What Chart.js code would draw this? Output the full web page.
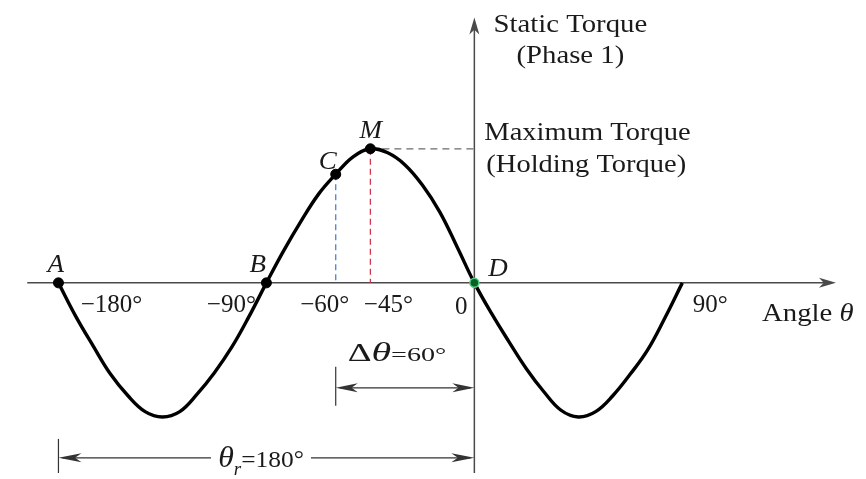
<!DOCTYPE html>
<html lang="en">
<head>
<meta charset="UTF-8" />
<title>Static Torque vs Angle</title>
<script src="https://cdn.jsdelivr.net/npm/chart.js"></script>
<style>
  html, body { margin: 0; padding: 0; background: #fff; }
  #wrap { width: 866px; height: 479px; }
</style>
</head>
<body>
<div id="wrap"><canvas id="torqueChart" width="866" height="479"></canvas></div>
<script>
  // rotor angle (deg) and static torque of phase 1 (1 = holding torque)
  const angles = [-180, -172.5, -165, -157.5, -150, -142.5, -135, -127.5, -120, -112.5, -105, -97.5,
                  -90, -82.5, -75, -67.5, -60, -52.5, -45, -37.5, -30, -22.5, -15, -7.5,
                  0, 7.5, 15, 22.5, 30, 37.5, 45, 52.5, 60, 67.5, 75, 82.5, 90];
  const torque = [0, -0.25, -0.47, -0.68, -0.84, -0.96, -1, -0.96, -0.83, -0.67, -0.48, -0.25,
                  0, 0.24, 0.46, 0.66, 0.81, 0.94, 1, 0.97, 0.88, 0.73, 0.53, 0.27,
                  0, -0.23, -0.44, -0.64, -0.81, -0.95, -1, -0.96, -0.84, -0.68, -0.5, -0.26, 0];

  // named points on the curve
  const pointNames = ['A', 'B', 'C', 'M', 'D'];
  const pointAngles = [-180, -90, -60, -45, 0];
  const pointTorque = [0, 0, 0.81, 1, 0];

  // angle axis labels
  const tickValues = [-180, -90, -60, -45, 0, 90];
  const tickLabels = ['−180°', '−90°', '−60°', '−45°', '0', '90°'];

  const stepAngle = 60;    // Δθ
  const periodAngle = 180; // θr

  const SERIF = '"Liberation Serif", "Times New Roman", serif';
  const AXIS_COLOR = '#4a4a4a';

  function arrowHead(ctx, x, y, dir, len, half) {
    ctx.save();
    ctx.translate(x, y);
    ctx.rotate(dir);
    ctx.beginPath();
    ctx.moveTo(0, 0);
    ctx.lineTo(-len, -half);
    ctx.lineTo(-len * 0.72, 0);
    ctx.lineTo(-len, half);
    ctx.closePath();
    ctx.fill();
    ctx.restore();
  }

  // text made of runs with different fonts, optionally stretched sideways
  function runs(ctx, parts, x, y, align, sx = 1) {
    let w = 0;
    parts.forEach(p => { ctx.font = p.font; w += ctx.measureText(p.t).width; });
    ctx.save();
    ctx.translate(align === 'center' ? x - w * sx / 2 : x, y);
    ctx.scale(sx, 1);
    let cx = 0;
    parts.forEach(p => {
      ctx.font = p.font;
      ctx.fillText(p.t, cx, p.dy || 0);
      cx += ctx.measureText(p.t).width;
    });
    ctx.restore();
  }

  function line(ctx, x1, y1, x2, y2) {
    ctx.beginPath();
    ctx.moveTo(x1, y1);
    ctx.lineTo(x2, y2);
    ctx.stroke();
  }

  const diagram = {
    id: 'diagram',
    beforeDatasetsDraw(chart) {
      const ctx = chart.ctx;
      const xs = chart.scales.x, ys = chart.scales.y;
      const x0 = xs.getPixelForValue(0), y0 = ys.getPixelForValue(0);
      const bottom = chart.chartArea.bottom;
      ctx.save();
      ctx.strokeStyle = AXIS_COLOR;
      ctx.fillStyle = AXIS_COLOR;
      ctx.lineWidth = 1.5;

      // angle axis
      const axL = xs.getPixelForValue(-193.5), axR = xs.getPixelForValue(156.5);
      line(ctx, axL, y0, axR - 6, y0);
      arrowHead(ctx, axR, y0, 0, 17, 5);

      // torque axis
      const axT = ys.getPixelForValue(1.98);
      line(ctx, x0, bottom, x0, axT + 6);
      arrowHead(ctx, x0, axT, -Math.PI / 2, 17, 5);

      // guides from M and C
      const mx = xs.getPixelForValue(pointAngles[3]), my = ys.getPixelForValue(pointTorque[3]);
      const cx = xs.getPixelForValue(pointAngles[2]), cy = ys.getPixelForValue(pointTorque[2]);
      ctx.lineWidth = 1.3;
      ctx.setLineDash([7, 5]);
      ctx.strokeStyle = '#6b6b6b';
      line(ctx, mx, my, x0, my);
      ctx.setLineDash([6, 4]);
      ctx.strokeStyle = '#d2374f';
      line(ctx, mx, my, mx, y0);
      ctx.strokeStyle = '#4f7fd4';
      line(ctx, cx, cy, cx, y0);
      ctx.setLineDash([]);

      // Δθ dimension
      ctx.strokeStyle = '#333';
      ctx.fillStyle = '#333';
      ctx.lineWidth = 1.2;
      const dL = xs.getPixelForValue(-stepAngle), dy = y0 + 105;
      line(ctx, dL, y0 + 84, dL, y0 + 123);
      line(ctx, dL + 4, dy, x0 - 4, dy);
      arrowHead(ctx, dL, dy, Math.PI, 22, 4.5);
      arrowHead(ctx, x0, dy, 0, 22, 4.5);

      // θr dimension
      const rL = xs.getPixelForValue(-periodAngle), ry = y0 + 175;
      line(ctx, rL, y0 + 156, rL, bottom);
      line(ctx, rL + 4, ry, 211, ry);
      line(ctx, 311, ry, x0 - 4, ry);
      arrowHead(ctx, rL, ry, Math.PI, 23, 4.5);
      arrowHead(ctx, x0, ry, 0, 23, 4.5);
      ctx.restore();
    },
    afterDatasetsDraw(chart) {
      const ctx = chart.ctx;
      const xs = chart.scales.x, ys = chart.scales.y;
      const x0 = xs.getPixelForValue(0), y0 = ys.getPixelForValue(0);
      const up = `25px ${SERIF}`, it = `italic 25px ${SERIF}`;
      ctx.save();
      ctx.fillStyle = '#1a1a1a';
      ctx.textBaseline = 'alphabetic';
      ctx.textAlign = 'left';

      // axis titles
      runs(ctx, [{ t: 'Static Torque', font: up }], x0 + 96, 32, 'center', 1.15);
      runs(ctx, [{ t: '(Phase 1)', font: up }], x0 + 96, 63, 'center', 1.15);
      runs(ctx, [{ t: 'Maximum Torque', font: up }], x0 + 10, 140, 'left', 1.14);
      runs(ctx, [{ t: '(Holding Torque)', font: up }], x0 + 12, 172, 'left', 1.14);
      runs(ctx, [{ t: 'Angle ', font: up }, { t: 'θ', font: it }], 762, y0 + 38, 'left', 1.15);

      // point names
      const nameOffsets = [[-11, -11], [-17, -11], [-17, -5], [-11, -11], [14, -7]];
      pointNames.forEach((n, i) => {
        const px = xs.getPixelForValue(pointAngles[i]), py = ys.getPixelForValue(pointTorque[i]);
        runs(ctx, [{ t: n, font: it }], px + nameOffsets[i][0], py + nameOffsets[i][1], 'left', 1.08);
      });

      // angle labels
      const tickOffsets = [53, -35, -11, 18, -13, 28];
      tickValues.forEach((v, i) => {
        const px = xs.getPixelForValue(v);
        runs(ctx, [{ t: tickLabels[i], font: up }], px + tickOffsets[i], y0 + (v === 0 ? 31 : 29), 'center');
      });

      // dimension texts
      runs(ctx, [{ t: 'Δ', font: `25px ${SERIF}` }, { t: 'θ', font: `italic 27px ${SERIF}` },
                 { t: '=' + stepAngle + '°', font: `19px ${SERIF}` }], 397, y0 + 78, 'center', 1.48);
      runs(ctx, [{ t: 'θ', font: `italic 30px ${SERIF}` }, { t: 'r', font: `italic 18px ${SERIF}`, dy: 8 },
                 { t: '=' + periodAngle + '°', font: `24px ${SERIF}` }], 261, y0 + 184, 'center', 1.06);
      ctx.restore();
    }
  };

  const curve = angles.map((a, i) => ({ x: a, y: torque[i] }));
  const marks = pointAngles.map((a, i) => ({ x: a, y: pointTorque[i] }));
  const isD = pointNames.map(n => n === 'D');

  new Chart(document.getElementById('torqueChart'), {
    type: 'line',
    data: {
      datasets: [
        {
          type: 'scatter',
          data: marks,
          pointRadius: isD.map(d => d ? 4.5 : 5),
          pointBackgroundColor: isD.map(d => d ? '#0d5f2a' : '#000'),
          pointBorderColor: isD.map(d => d ? '#4fcf7d' : '#000'),
          pointBorderWidth: isD.map(d => d ? 1.5 : 1),
          showLine: false
        },
        {
          data: curve,
          borderColor: '#000',
          borderWidth: 3.4,
          pointRadius: 0,
          tension: 0.4,
          borderJoinStyle: 'round',
          fill: false
        }
      ]
    },
    options: {
      responsive: false,
      animation: false,
      events: [],
      layout: { padding: 0 },
      plugins: { legend: { display: false }, tooltip: { enabled: false } },
      scales: {
        x: { type: 'linear', min: -202.7, max: 166.9, display: false },
        y: { type: 'linear', min: -1.418, max: 2.065, display: false }
      }
    },
    plugins: [diagram]
  });
</script>
</body>
</html>
